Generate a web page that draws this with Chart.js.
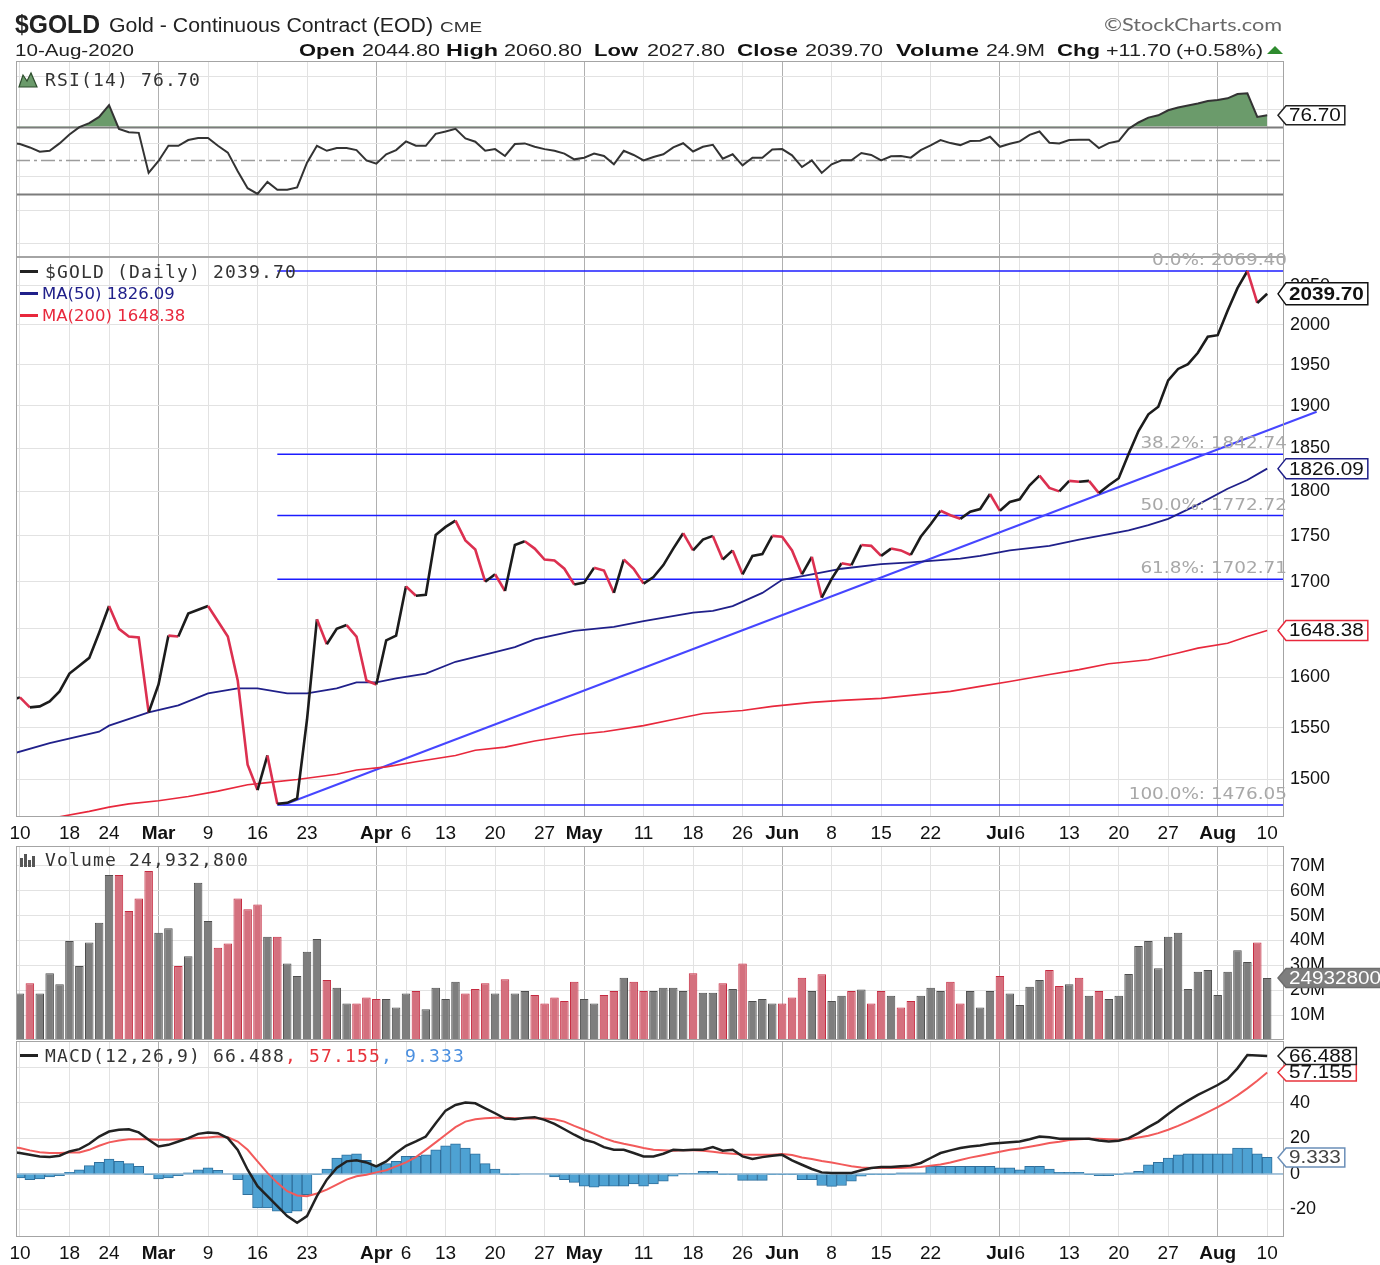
<!DOCTYPE html>
<html lang="en">
<head>
<meta charset="UTF-8" />
<title>$GOLD Gold - Continuous Contract (EOD) CME</title>
<script src="https://cdn.jsdelivr.net/npm/chart.js"></script>
<style>
  body { margin: 0; background: #fff; }
  #page { position: relative; width: 1380px; height: 1265px; overflow: hidden; background: #fff; }
  #page canvas { position: absolute; left: 0; }
</style>
</head>
<body>
<div id="page">
  <canvas id="header" width="1380" height="61" style="top:0"></canvas>
  <canvas id="rsiChart" width="1380" height="196" style="top:61px"></canvas>
  <canvas id="priceChart" width="1380" height="595" style="top:250px"></canvas>
  <canvas id="volChart" width="1380" height="194" style="top:846px"></canvas>
  <canvas id="macdChart" width="1380" height="224" style="top:1041px"></canvas>
</div>
<script>
// trading days, first one (Feb 7) sits just left of the plot
const dates = ['Feb 7',
  'Feb 10','Feb 11','Feb 12','Feb 13','Feb 14','Feb 18','Feb 19','Feb 20','Feb 21',
  'Feb 24','Feb 25','Feb 26','Feb 27','Feb 28','Mar 2','Mar 3','Mar 4','Mar 5','Mar 6',
  'Mar 9','Mar 10','Mar 11','Mar 12','Mar 13','Mar 16','Mar 17','Mar 18','Mar 19','Mar 20',
  'Mar 23','Mar 24','Mar 25','Mar 26','Mar 27','Mar 30','Mar 31','Apr 1','Apr 2','Apr 3',
  'Apr 6','Apr 7','Apr 8','Apr 9','Apr 13','Apr 14','Apr 15','Apr 16','Apr 17',
  'Apr 20','Apr 21','Apr 22','Apr 23','Apr 24','Apr 27','Apr 28','Apr 29','Apr 30','May 1',
  'May 4','May 5','May 6','May 7','May 8','May 11','May 12','May 13','May 14','May 15',
  'May 18','May 19','May 20','May 21','May 22','May 26','May 27','May 28','May 29',
  'Jun 1','Jun 2','Jun 3','Jun 4','Jun 5','Jun 8','Jun 9','Jun 10','Jun 11','Jun 12',
  'Jun 15','Jun 16','Jun 17','Jun 18','Jun 19','Jun 22','Jun 23','Jun 24','Jun 25','Jun 26',
  'Jun 29','Jun 30','Jul 1','Jul 2','Jul 6','Jul 7','Jul 8','Jul 9','Jul 10',
  'Jul 13','Jul 14','Jul 15','Jul 16','Jul 17','Jul 20','Jul 21','Jul 22','Jul 23','Jul 24',
  'Jul 27','Jul 28','Jul 29','Jul 30','Jul 31','Aug 3','Aug 4','Aug 5','Aug 6','Aug 7','Aug 10'];

const closes = [1577,
  1580,1570,1571,1576,1586, 1604,1612,1620,1646, 1674,1650,1642,1641,1565,
  1593,1643,1642,1666,1670, 1674,1658,1642,1597,1514, 1490,1523,1477,1478,1482,
  1558,1660,1634,1650,1654, 1642,1597,1593,1638,1643, 1695,1685,1686,1751,
  1760,1767,1745,1735,1700, 1708,1690,1740,1744,1736, 1724,1723,1714,1697,1699,
  1715,1712,1688,1724,1714, 1698,1705,1718,1736,1753, 1734,1746,1750,1724,1734,
  1708,1728,1730,1750, 1749,1734,1708,1727,1683, 1703,1720,1718,1740,1739,
  1728,1736,1734,1729,1749, 1763,1778,1773,1769,1777, 1780,1797,1778,1788,
  1791,1807,1818,1804,1800, 1812,1811,1812,1798,1807, 1815,1843,1870,1890,1899,
  1931,1945,1951,1965,1985, 1987,2018,2047,2069.4,2028, 2039.7];

const rsi = [60.3,
  59.5,57.5,55,55.5,59.9, 65.2,69.6,72,75.7, 82.7,68.6,66.6,66.2,42.3,
  49.4,58.5,58.5,61.9,63.1, 63.1,58.5,54.4,43.3,33.2, 29.8,36.9,32.2,32.2,33.6,
  48.4,58.5,55.5,57.1,57.1, 55.9,49.8,47.8,53.4,55.9, 61.1,58.5,58.5,65.6,
  67,68.6,62.9,60.9,55.5, 56.5,52.4,59.5,59.9,57.9, 56.5,55.5,53.8,50.4,51.4,
  53.8,52.4,47.4,55.5,53, 49.8,51.8,53.4,57.5,60, 55.1,57.9,59.1,50.8,53.4,
  46.8,51.4,51.4,56.3, 56.5,52.8,45.8,49.8,42.3, 47.4,49.8,49.8,54.2,53,
  49.8,52.2,52.4,51.4,55.9, 58.7,61.9,60.1,58.9,61.3, 61.5,63.9,57.9,59.7,
  61.1,65,67,60.3,59.9, 61.9,62.1,62.1,57.1,60.1, 61.3,68.6,72.4,75.3,76.7,
  79.7,81.3,82.5,83.7,85.2, 85.8,86.8,89.4,89.8,75.7, 76.70];

// volume in millions
const volumes = [28.1,
  18.7,22.8,18.7,26.8,22.4, 39.8,29.8,39.2,47.1, 66.3,66.3,51.9,56.9,67.9,
  43.1,44.9,29.8,33.7,63.2, 47.8,37.1,38.8,56.9,52.6, 54.5,41.5,41.5,30.8,25.7,
  35.5,40.6,24.1,21.0,14.7, 14.7,17.1,16.5,16.5,13.1, 18.7,19.7,12.4,21.0,
  16.5,23.4,18.7,20.5,22.8, 18.7,24.4,18.7,19.7,18.1, 14.7,17.1,15.7,23.4,16.5,
  14.7,18.1,19.7,25.0,23.4, 19.7,19.7,21.0,21.0,19.7, 26.8,19.0,19.0,22.8,20.5,
  30.8,15.7,16.5,14.7, 14.7,17.1,25.0,19.7,26.4, 15.7,17.8,19.7,20.3,14.7,
  19.7,17.8,13.1,15.7,17.8, 21.0,19.7,23.4,14.7,19.7, 13.1,19.7,25.7,18.7,
  14.1,21.4,24.1,28.1,21.7, 22.4,25.0,17.8,19.7,16.5, 17.8,26.5,37.8,39.8,28.8,
  41.5,43.1,20.5,27.4,28.1, 18.1,27.4,36.1,31.4,39.2, 24.93];
const lastVolume = '24,932,800';

const macd = [12.5,
  11.8,10.8,9.9,9.5,10.3, 12.7,14.0,17.0,21.1, 23.9,24.9,25.2,23.4,19.3,
  15.5,16.4,18.3,20.2,22.6, 23.4,23.0,20.2,13.6,2.4, -6.9,-12.5,-18.1,-23.7,-27.5,
  -23.7,-12.5,-3.2,3.4,7.1, 7.7,6.5,4.3,7.1,11.8, 15.9,18.3,21.1,28.6,
  35.7,38.9,40.2,39.8,37.0, 34.2,31.2,30.8,31.6,32.0, 30.5,28.2,25.2,22.1,19.3,
  17.8,15.1,13.6,13.6,11.8, 9.9,9.9,11.4,13.6,13.4, 13.6,13.6,15.1,13.1,13.6,
  9.9,8.4,9.5,10.3, 10.8,7.7,5.2,2.8,0.9, 0.6,0.6,0.6,2.1,3.4,
  3.9,3.9,4.3,4.7,6.2, 9.0,11.8,13.3,14.6,15.5, 16.1,17.0,17.4,17.9,
  18.3,19.6,21.1,20.7,19.8, 19.8,19.8,19.8,18.9,18.3, 18.7,20.2,23.0,26.4,29.5,
  33.8,37.9,41.3,44.5,47.3, 50.1,53.5,59.5,67.0,66.8, 66.488];

const signal = [15.2,
  14.6,13.3,12.3,11.8,11.8, 12.1,12.1,13.6,15.9, 17.8,18.9,19.6,19.6,19.6,
  19.3,19.3,19.6,19.8,20.2, 20.6,21.1,20.7,18.3,13.6, 7.1,0.6,-5.0,-9.7,-12.1,
  -12.5,-11.0,-8.8,-6.0,-3.2, -1.3,-0.4,0.9,2.1,4.3, 6.5,9.5,13.6,17.8,
  22.1,26.4,29.5,30.8,31.4, 31.6,31.6,31.4,31.2,31.2, 31.2,30.8,29.5,27.1,24.9,
  22.6,20.2,18.3,17.0,15.9, 14.6,13.6,13.3,13.1,13.3, 13.3,13.1,12.5,11.8,11.4,
  11.0,10.8,10.8,10.8, 11.2,10.7,9.3,8.4,7.3, 6.5,5.4,4.3,3.7,3.4,
  3.4,3.4,3.4,3.6,3.9, 4.7,5.4,6.5,7.9,9.2, 10.3,11.4,12.5,13.6,
  14.4,15.3,16.3,17.4,18.1, 19.1,19.6,19.8,19.8,19.6, 19.4,19.6,20.6,21.5,23.0,
  24.9,27.1,29.5,32.1,34.8, 37.6,40.7,44.3,48.2,52.5, 57.155];

const hist = [-2.5,
  -2.2,-3.2,-2.8,-1.7,-0.9, 0.9,2.4,4.7,6.5, 8.4,7.1,5.8,4.3,-0.4,
  -2.8,-2.2,-0.9,0.6,2.4, 3.4,2.1,0,-3.2,-11.6, -19.1,-19.1,-20.9,-21.9,-20.9,
  -11.6,-0.4,2.8,9.0,10.8, 11.4,7.7,4.7,5.8,7.1, 9.9,9.9,10.8,13.6,
  15.9,17.0,14.6,11.4,5.8, 2.8,-0.4,-0.4,0,0, 0,-1.7,-3.2,-4.7,-6.9,
  -7.5,-6.9,-6.9,-6.9,-5.6, -6.9,-5.6,-4.1,-1.3,0.3, 0.3,1.5,1.5,-0.4,-0.4,
  -3.6,-3.6,-3.6,-0.4, -0.4,-0.4,-3.2,-3.2,-6.5, -7.0,-6.5,-4.1,-1.3,-0.4,
  -0.4,-0.4,0.6,0.6,0.6, 4.3,4.3,4.3,4.3,4.3, 4.3,4.3,3.4,3.4,
  2.4,4.3,4.3,2.8,0.9, 0.9,0.9,-0.4,-0.9,-0.9, -0.4,0.6,1.5,5.2,6.5,
  9.0,10.8,11.4,11.4,11.4, 11.4,11.4,14.6,14.6,11.4, 9.333];

// moving averages read at selected days (x = day index, 0 = Feb 10)
const ma50Idx = [-1,3,8,9,13,16,19,22,24,27,29,32,34,36,38,41,44,48,50,52,56,60,63,68,70,72,75,77,80,83,87,90,95,97,100,104,107,110,112,114,116,119,122,124,126];
const ma50Val = [1524,1535,1546,1552,1565,1572,1584,1589,1589,1584,1584,1589,1595,1595,1599,1604,1616,1626,1631,1639,1648,1652,1658,1667,1669,1674,1688,1702,1708,1714,1719,1721,1725,1728,1734,1739,1746,1752,1756,1762,1769,1785,1803,1813,1826.09];
const ma200Idx = [-1,2,4,7,9,11,14,17,20,23,25,28,32,34,37,40,44,46,49,52,56,59,63,66,69,73,76,80,83,87,90,94,97,100,104,107,110,114,117,119,122,124,126];
const ma200Val = [1452,1459,1465,1470,1474,1477,1480,1484,1489,1495,1497,1500,1505,1509,1512,1517,1523,1528,1531,1537,1543,1546,1552,1558,1564,1567,1571,1575,1577,1579,1582,1586,1591,1596,1603,1608,1614,1618,1625,1630,1635,1642,1648.38];

const fibLevels = [2069.40, 1842.74, 1772.72, 1702.71, 1476.05];
const fibNames = ['0.0%', '38.2%', '50.0%', '61.8%', '100.0%'];
const fibStartIdx = 26;
const trendIdx = [26.6, 131];
const trendVal = [1476, 1893];

const xTickIdx = [0,5,9,14,19,24,29,36,39,43,48,53,57,63,68,73,77,82,87,92,99,101,106,111,116,121,126];
const xTickText = ['10','18','24','Mar','9','16','23','Apr','6','13','20','27','May','11','18','26','Jun','8','15','22','Jul','6','13','20','27','Aug','10'];
const rsiTicks = [0,10,20,30,40,50,60,70,80,90,100];
const rsiLevels = [70, 50, 30];
const priceTicks = [1500,1550,1600,1650,1700,1750,1800,1850,1900,1950,2000,2050];
const volTicks = [10,20,30,40,50,60,70];
const macdTicks = [-20,0,20,40,60];

const header = [
  ['$GOLD', 15, 33, 'bold 25px', 85, '#222'],
  ['Gold - Continuous Contract (EOD)', 109, 32, '20px', 324, '#222'],
  ['CME', 440, 32, '15px', 42, '#333'],
  ['10-Aug-2020', 15, 56, '17px', 119, '#222'],
  ['Open', 299, 56, 'bold 17px', 56, '#111'], ['2044.80', 362, 56, '17px', 78, '#222'],
  ['High', 446, 56, 'bold 17px', 52, '#111'], ['2060.80', 504, 56, '17px', 78, '#222'],
  ['Low', 594, 56, 'bold 17px', 44, '#111'], ['2027.80', 647, 56, '17px', 78, '#222'],
  ['Close', 737, 56, 'bold 17px', 61, '#111'], ['2039.70', 805, 56, '17px', 78, '#222'],
  ['Volume', 896, 56, 'bold 17px', 83, '#111'], ['24.9M', 986, 56, '17px', 59, '#222'],
  ['Chg', 1057, 56, 'bold 17px', 43, '#111'], ['+11.70', 1106, 56, '17px', 65, '#222'],
  ['(+0.58%)', 1176, 56, '17px', 87, '#222']
];

// ---------------------------------------------------------------
const SANS = '"Liberation Sans", Arial, sans-serif';
const SX = 1.15;
const AXIS_W = 96, LEFT = 16, X_MIN = -0.4, X_MAX = 127.7;
const MONTHS = ['Mar','Apr','May','Jun','Jul','Aug'];
const BLACK = '#1c1c1c', RED = '#dc3050';

Chart.defaults.font.family = SANS;

const pts = arr => arr.map((y, k) => ({ x: k - 1, y }));
const pairs = (xs, ys) => xs.map((x, k) => ({ x, y: ys[k] }));
const isDown = k => k > 0 && closes[k] < closes[k - 1];

function drawText(ctx, s, x, y, font, color, o = {}) {
  ctx.save();
  ctx.font = font;
  const nat = ctx.measureText(s).width;
  const sx = o.width ? o.width / nat : (o.sx || SX);
  const w = nat * sx;
  ctx.translate(o.align === 'right' ? x - w : x, y);
  ctx.scale(sx, 1);
  ctx.fillStyle = color;
  ctx.textAlign = 'left';
  ctx.textBaseline = o.baseline || 'alphabetic';
  ctx.fillText(s, 0, 0);
  ctx.restore();
  return w;
}

// panel captions use an even 12px pitch
function mono(ctx, s, x, y, color) {
  ctx.save();
  ctx.font = '18px "DejaVu Sans Mono", monospace';
  ctx.fillStyle = color;
  for (let k = 0; k < s.length; k++) ctx.fillText(s[k], x + k * 12, y);
  ctx.restore();
  return x + s.length * 12;
}

function frame(ctx, a) {
  ctx.save();
  ctx.strokeStyle = '#a4a4a4';
  ctx.lineWidth = 1;
  ctx.strokeRect(a.left + 0.5, a.top + 0.5, a.right - a.left - 1, a.bottom - a.top - 1);
  ctx.restore();
}

function valueBox(ctx, a, y, text, o) {
  ctx.save();
  ctx.font = (o.bold ? 'bold ' : '') + (o.size || 18) + 'px ' + SANS;
  const tw = ctx.measureText(text).width * SX;
  const h = o.h || 20, tip = a.right - 6, x0 = tip + 8, x1 = x0 + tw + 7;
  ctx.beginPath();
  ctx.moveTo(tip, y); ctx.lineTo(x0, y - h / 2); ctx.lineTo(x1, y - h / 2);
  ctx.lineTo(x1, y + h / 2); ctx.lineTo(x0, y + h / 2); ctx.closePath();
  ctx.fillStyle = o.fill || '#fff'; ctx.fill();
  ctx.lineWidth = 1.5; ctx.strokeStyle = o.border; ctx.stroke();
  ctx.translate(x0 + 3, y); ctx.scale(SX, 1);
  ctx.fillStyle = o.color || '#111'; ctx.textBaseline = 'middle';
  ctx.fillText(text, 0, 1);
  ctx.restore();
}

function xAxis(labels) {
  return {
    type: 'linear', min: X_MIN, max: X_MAX, offset: false,
    afterBuildTicks: s => { s.ticks = xTickIdx.map(v => ({ value: v })); },
    afterFit: s => { s.height = labels ? 28 : 0; s.paddingLeft = 0; s.paddingRight = 0; },
    border: { display: false },
    grid: { offset: false, drawTicks: false, color: c => MONTHS.includes(xTickText[c.index]) ? '#b0b0b0' : '#e2e2e2' },
    ticks: {
      display: labels, autoSkip: false, maxRotation: 0, padding: 5, color: '#111',
      font: c => ({ size: 19, weight: MONTHS.includes(xTickText[c.index]) ? 'bold' : 'normal' }),
      callback: (v, i) => xTickText[i]
    }
  };
}

function yAxis(type, min, max, ticks, fmt) {
  return {
    type, position: 'right', min, max,
    afterBuildTicks: s => { s.ticks = ticks.map(v => ({ value: v })); },
    afterFit: s => { s.width = AXIS_W; s.paddingTop = 0; s.paddingBottom = 0; },
    border: { display: false },
    grid: { drawTicks: false, color: '#e2e2e2' },
    ticks: { padding: 6, color: '#111', font: { size: 18 }, callback: v => fmt(v) }
  };
}

function options(x, y, top) {
  return {
    responsive: false, animation: false,
    layout: { padding: { left: LEFT, right: 0, top: top || 0, bottom: 0 } },
    plugins: { legend: { display: false }, tooltip: { enabled: false } },
    scales: { x, y }
  };
}

// ---------------- header ----------------
(function () {
  const ctx = document.getElementById('header').getContext('2d');
  header.forEach(([s, x, y, f, w, c]) => drawText(ctx, s, x, y, f + ' ' + SANS, c, { width: w }));
  drawText(ctx, '\u00A9StockCharts.com', 1104, 31, '18px Lato, "Open Sans", sans-serif', '#6a6a6a', { width: 178 });
  ctx.fillStyle = '#2e8b2e';
  ctx.beginPath(); ctx.moveTo(1267, 54); ctx.lineTo(1283, 54); ctx.lineTo(1275, 46); ctx.closePath(); ctx.fill();
})();

// ---------------- RSI ----------------
new Chart(document.getElementById('rsiChart'), {
  type: 'line',
  data: { datasets: [{
    data: pts(rsi), borderColor: '#333', borderWidth: 2, pointRadius: 0, tension: 0,
    fill: { target: { value: 70 }, above: '#6b9b6b', below: 'rgba(0,0,0,0)' }
  }] },
  options: options(xAxis(false), yAxis('linear', -7.9, 109.1, rsiTicks, v => (v % 20 === 10 ? String(v) : ''))),
  plugins: [{
    id: 'rsiDeco',
    beforeDatasetsDraw(ch) {
      const { ctx, chartArea: a } = ch, ys = ch.scales.y;
      ctx.save();
      rsiLevels.forEach(lv => {
        const y = Math.round(ys.getPixelForValue(lv)) + 0.5;
        ctx.beginPath();
        if (lv === 50) { ctx.setLineDash([14, 4, 3, 4]); ctx.strokeStyle = '#9c9c9c'; ctx.lineWidth = 1.5; }
        else { ctx.setLineDash([]); ctx.strokeStyle = '#7c7c7c'; ctx.lineWidth = 2; }
        ctx.moveTo(a.left, y); ctx.lineTo(a.right, y); ctx.stroke();
      });
      ctx.restore();
    },
    afterDraw(ch) {
      const { ctx, chartArea: a } = ch, ys = ch.scales.y;
      frame(ctx, a);
      ctx.save();
      ctx.beginPath();
      ctx.moveTo(19, 26); ctx.lineTo(23, 14); ctx.lineTo(27, 20); ctx.lineTo(31, 12); ctx.lineTo(37, 26); ctx.closePath();
      ctx.fillStyle = '#6b9b6b'; ctx.fill(); ctx.strokeStyle = '#2d4d2d'; ctx.lineWidth = 1.2; ctx.stroke();
      ctx.restore();
      mono(ctx, 'RSI(14) ' + rsi[rsi.length - 1].toFixed(2), 45, 25, '#333');
      valueBox(ctx, a, ys.getPixelForValue(rsi[rsi.length - 1]), rsi[rsi.length - 1].toFixed(2), { border: '#222', h: 19 });
    }
  }]
});

// ---------------- Price ----------------
new Chart(document.getElementById('priceChart'), {
  type: 'line',
  data: { datasets: [
    { data: pts(closes), borderWidth: 2.6, pointRadius: 0, tension: 0, order: 0,
      borderColor: BLACK, segment: { borderColor: c => (c.p1.parsed.y < c.p0.parsed.y ? RED : BLACK) } },
    { data: pairs(ma50Idx, ma50Val), borderColor: '#20208a', borderWidth: 1.8, pointRadius: 0, order: 1 },
    { data: pairs(ma200Idx, ma200Val), borderColor: '#e8283c', borderWidth: 1.6, pointRadius: 0, order: 2 },
    { data: pairs(trendIdx, trendVal), borderColor: '#4646ff', borderWidth: 2, pointRadius: 0, order: 3,
      clip: { left: 0, top: 0, right: 40, bottom: 0 } },
    ...fibLevels.map(lv => ({ data: [{ x: fibStartIdx, y: lv }, { x: X_MAX, y: lv }],
      borderColor: '#1c1cff', borderWidth: 1.5, pointRadius: 0, order: 4 }))
  ] },
  options: options(xAxis(true), yAxis('logarithmic', 1464.8, 2087.8, priceTicks, v => String(v)), 7),
  plugins: [{
    id: 'priceDeco',
    afterDraw(ch) {
      const { ctx, chartArea: a } = ch, ys = ch.scales.y;
      frame(ctx, a);
      fibLevels.forEach((lv, k) => drawText(ctx, fibNames[k] + ': ' + lv.toFixed(2), a.right + 3,
        ys.getPixelForValue(lv) - 6, '16px "DejaVu Sans", sans-serif', '#a8a8a8', { align: 'right' }));
      ctx.save();
      ctx.fillStyle = '#222'; ctx.fillRect(20, 20, 18, 3);
      ctx.fillStyle = '#20208a'; ctx.fillRect(20, 42, 18, 3);
      ctx.fillStyle = '#e8283c'; ctx.fillRect(20, 64, 18, 3);
      ctx.restore();
      mono(ctx, '$GOLD (Daily) ' + closes[closes.length - 1].toFixed(2), 45, 28, '#333');
      drawText(ctx, 'MA(50) ' + ma50Val[ma50Val.length - 1].toFixed(2), 42, 49, '15px "DejaVu Sans", sans-serif', '#20208a', { sx: 1.1 });
      drawText(ctx, 'MA(200) ' + ma200Val[ma200Val.length - 1].toFixed(2), 42, 71, '15px "DejaVu Sans", sans-serif', '#e8283c', { sx: 1.1 });
      valueBox(ctx, a, ys.getPixelForValue(ma200Val[ma200Val.length - 1]), ma200Val[ma200Val.length - 1].toFixed(2), { border: '#e8283c', h: 20 });
      valueBox(ctx, a, ys.getPixelForValue(ma50Val[ma50Val.length - 1]), ma50Val[ma50Val.length - 1].toFixed(2), { border: '#20208a', h: 20 });
      valueBox(ctx, a, ys.getPixelForValue(closes[closes.length - 1]), closes[closes.length - 1].toFixed(2), { border: '#111', bold: true, h: 22 });
    }
  }]
});

// ---------------- Volume ----------------
new Chart(document.getElementById('volChart'), {
  type: 'bar',
  data: { datasets: [{
    data: pts(volumes),
    backgroundColor: volumes.map((v, k) => (isDown(k) ? '#d4707e' : '#7e7e7e')),
    borderColor: volumes.map((v, k) => (isDown(k) ? '#c62a40' : '#4e4e4e')),
    borderWidth: 1, barPercentage: 0.86, categoryPercentage: 1, grouped: false
  }] },
  options: options(xAxis(false), yAxis('linear', 0, 78, volTicks, v => v + 'M')),
  plugins: [{
    id: 'volDeco',
    afterDraw(ch) {
      const { ctx, chartArea: a } = ch, ys = ch.scales.y;
      frame(ctx, a);
      ctx.save();
      ctx.fillStyle = '#555';
      [[20, 9], [24, 13], [28, 7], [32, 11]].forEach(([x, h]) => ctx.fillRect(x, 21 - h, 3, h));
      ctx.restore();
      mono(ctx, 'Volume ' + lastVolume, 45, 20, '#333');
      valueBox(ctx, a, ys.getPixelForValue(volumes[volumes.length - 1]), lastVolume.replace(/,/g, ''),
        { border: '#6e6e6e', fill: '#7e7e7e', color: '#fff', h: 19 });
    }
  }]
});

// ---------------- MACD ----------------
new Chart(document.getElementById('macdChart'), {
  type: 'bar',
  data: { datasets: [
    { type: 'line', data: pts(macd), borderColor: '#222', borderWidth: 2.5, pointRadius: 0, order: 0 },
    { type: 'line', data: pts(signal), borderColor: '#f25a5a', borderWidth: 2, pointRadius: 0, order: 1 },
    { type: 'bar', data: pts(hist), backgroundColor: '#4ea2d3', borderColor: '#2f6f9c', borderWidth: 1,
      barPercentage: 1, categoryPercentage: 1, order: 2 }
  ] },
  options: options(xAxis(true), yAxis('linear', -35.5, 74.9, macdTicks, v => String(v))),
  plugins: [{
    id: 'macdDeco',
    beforeDatasetsDraw(ch) {
      const { ctx, chartArea: a } = ch, y = ch.scales.y.getPixelForValue(0);
      ctx.save(); ctx.strokeStyle = '#8fb6d3'; ctx.lineWidth = 1.5;
      ctx.beginPath(); ctx.moveTo(a.left, y); ctx.lineTo(a.right, y); ctx.stroke(); ctx.restore();
    },
    afterDraw(ch) {
      const { ctx, chartArea: a } = ch, ys = ch.scales.y;
      frame(ctx, a);
      ctx.fillStyle = '#222'; ctx.fillRect(20, 13, 18, 3);
      const m = macd[macd.length - 1], s = signal[signal.length - 1], h = hist[hist.length - 1];
      let x = mono(ctx, 'MACD(12,26,9) ' + m.toFixed(3), 45, 21, '#333');
      x = mono(ctx, ', ' + s.toFixed(3), x, 21, '#e8343c');
      mono(ctx, ', ' + h.toFixed(3), x, 21, '#4a8fe0');
      valueBox(ctx, a, ys.getPixelForValue(h), h.toFixed(3), { border: '#6b8fb8', color: '#444', h: 19 });
      valueBox(ctx, a, ys.getPixelForValue(s), s.toFixed(3), { border: '#e8343c', h: 17 });
      valueBox(ctx, a, ys.getPixelForValue(m), m.toFixed(3), { border: '#222', h: 17 });
    }
  }]
});
</script>
</body>
</html>
